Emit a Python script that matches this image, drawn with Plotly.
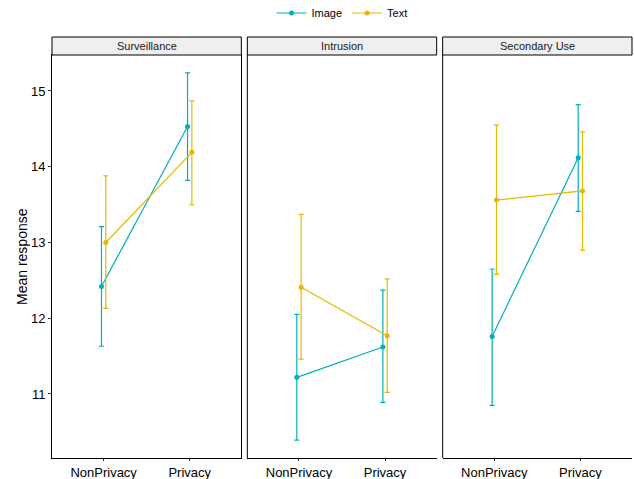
import plotly.graph_objects as go

panels = ["Surveillance", "Intrusion", "Secondary Use"]
conditions = ["NonPrivacy", "Privacy"]

# mean, upper, lower per panel: [NonPrivacy, Privacy]
image_mean = {"Surveillance": [12.42, 14.53], "Intrusion": [11.22, 11.62], "Secondary Use": [11.76, 14.12]}
image_hi = {"Surveillance": [13.21, 15.24], "Intrusion": [12.05, 12.37], "Secondary Use": [12.65, 14.82]}
image_lo = {"Surveillance": [11.63, 13.82], "Intrusion": [10.39, 10.89], "Secondary Use": [10.85, 13.41]}

text_mean = {"Surveillance": [13.00, 14.19], "Intrusion": [12.41, 11.77], "Secondary Use": [13.56, 13.68]}
text_hi = {"Surveillance": [13.88, 14.87], "Intrusion": [13.37, 12.52], "Secondary Use": [14.55, 14.46]}
text_lo = {"Surveillance": [12.13, 13.50], "Intrusion": [11.46, 11.02], "Secondary Use": [12.58, 12.90]}

series = [
    ("Image", "#00AFBB", image_mean, image_hi, image_lo, -0.025),
    ("Text", "#E7B800", text_mean, text_hi, text_lo, 0.025),
]

W, H = 634, 479
ml, mr, mt, mb = 52, 2, 55, 21
pw = W - ml - mr
ph = H - mt - mb
gap = 6
panel_w = (pw - 2 * gap) / 3
domains = []
for i in range(3):
    a = i * (panel_w + gap)
    domains.append([a / pw, (a + panel_w) / pw])

fig = go.Figure()
font = "Liberation Sans, Arial, sans-serif"

for i, p in enumerate(panels):
    xa = "x" if i == 0 else f"x{i+1}"
    for name, color, m, hi, lo, off in series:
        xs = [1 + off, 2 + off]
        ys = m[p]
        fig.add_trace(go.Scatter(
            x=xs, y=ys, mode="lines+markers", name=name,
            legendgroup=name, showlegend=(i == 0),
            line=dict(color=color, width=1.2),
            marker=dict(color=color, size=5),
            error_y=dict(type="data", symmetric=False,
                         array=[h - v for h, v in zip(hi[p], ys)],
                         arrayminus=[v - l for v, l in zip(ys, lo[p])],
                         color=color, thickness=1.2, width=2.5),
            xaxis=xa, yaxis="y",
        ))

axis_common = dict(range=[0.4, 2.6], tickvals=[1, 2], ticktext=conditions,
                   showline=True, linecolor="black", linewidth=1, mirror=True,
                   ticks="outside", ticklen=2, tickcolor="#333333",
                   showgrid=False, zeroline=False, automargin=False,
                   tickfont=dict(size=13, color="black", family=font))
layout = dict(
    width=W, height=H,
    margin=dict(l=ml, r=mr, t=mt, b=mb, autoexpand=False),
    plot_bgcolor="white", paper_bgcolor="white",
    font=dict(family=font, color="black"),
    legend=dict(orientation="h", x=0.5, xanchor="center", y=1 + (mt - 13) / ph,
                yanchor="middle", font=dict(size=11), itemwidth=30,
                tracegroupgap=0, bgcolor="rgba(0,0,0,0)"),
    yaxis=dict(range=[10.155, 15.475], tickvals=[11, 12, 13, 14, 15],
               showline=True, linecolor="black", linewidth=1, mirror=True,
               ticks="outside", ticklen=3, tickcolor="#333333",
               showgrid=False, zeroline=False, anchor="x", automargin=False,
               tickfont=dict(size=13, color="black", family=font)),
)
for i in range(3):
    key = "xaxis" if i == 0 else f"xaxis{i+1}"
    layout[key] = dict(axis_common, domain=domains[i], anchor="y")
fig.update_layout(**layout)

shapes = []
annotations = []
strip_h = 18 / ph
for i, p in enumerate(panels):
    x0, x1 = domains[i]
    if i > 0:
        shapes.append(dict(type="line", xref="paper", yref="paper", x0=x0, x1=x0, y0=0, y1=1,
                           line=dict(color="black", width=1)))
    shapes.append(dict(type="rect", xref="paper", yref="paper", x0=x0, x1=x1, y0=1, y1=1 + strip_h,
                       fillcolor="#EFEFEF", line=dict(color="black", width=1)))
    annotations.append(dict(text=p, xref="paper", yref="paper", x=(x0 + x1) / 2, y=1 + strip_h / 2,
                            showarrow=False, font=dict(size=11, color="#1A1A1A", family=font),
                            xanchor="center", yanchor="middle"))
# y-axis title
annotations.append(dict(text="Mean response", xref="paper", yref="paper",
                        x=(22 - ml) / pw, y=(H - mb - 257) / ph, textangle=-90,
                        showarrow=False, font=dict(size=14, color="black", family=font),
                        xanchor="center", yanchor="middle"))
fig.update_layout(shapes=shapes, annotations=annotations)

fig.write_html("out.html", config={"displayModeBar": False},
               post_script="document.body.style.margin='0px';")
